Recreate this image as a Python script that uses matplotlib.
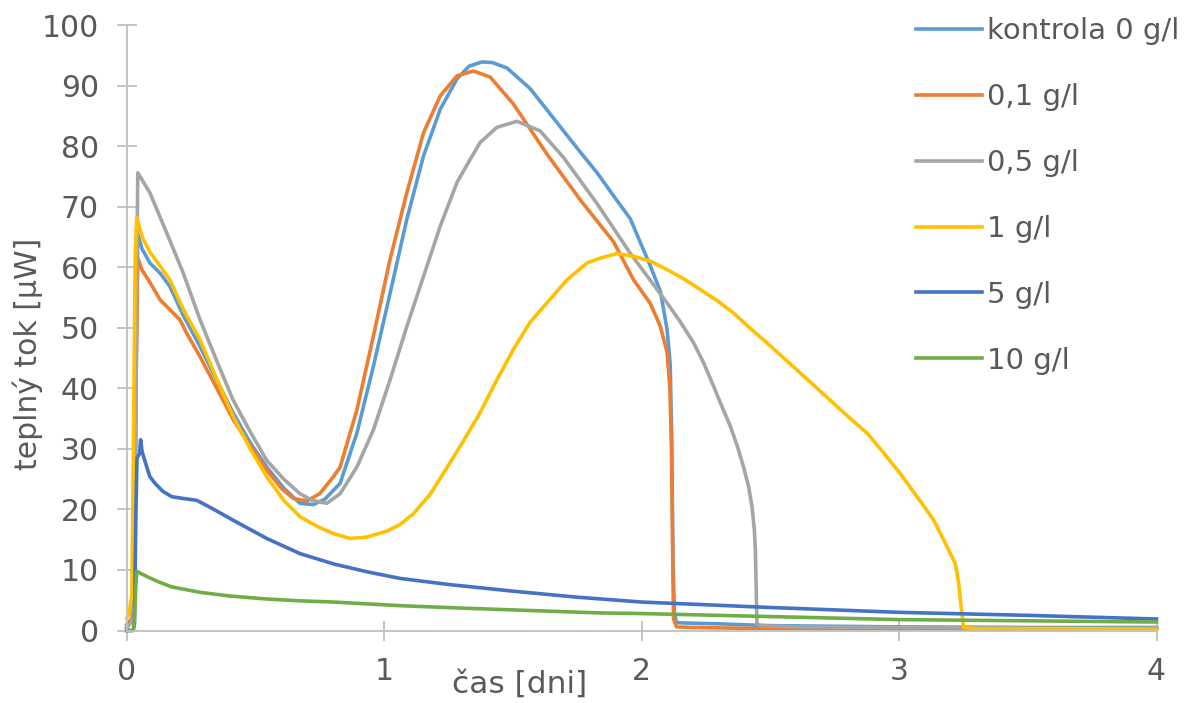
import matplotlib
matplotlib.use("Agg")
import matplotlib.pyplot as plt

# ---- data ----
labels = ["kontrola 0 g/l", "0,1 g/l", "0,5 g/l", "1 g/l", "5 g/l", "10 g/l"]
colors = ["#5B9BD5", "#ED7D31", "#A5A5A5", "#FFC000", "#4472C4", "#70AD47"]

t_k = [0, 0.02, 0.03, 0.036, 0.043, 0.06, 0.09, 0.13, 0.168, 0.22, 0.285, 0.35, 0.414,
       0.48, 0.544, 0.61, 0.673, 0.725, 0.77, 0.829, 0.894, 0.958, 1.023, 1.088, 1.153,
       1.218, 1.283, 1.33, 1.38, 1.42, 1.477, 1.567, 1.632, 1.697, 1.762, 1.827, 1.891,
       1.956, 2.034, 2.073, 2.099, 2.111, 2.117, 2.122, 2.127, 2.135, 2.2, 2.3, 2.5,
       3.0, 3.5, 4.0]
v_k = [0.5, 1.5, 5, 40, 65.4, 63, 60.7, 59, 56.8, 52, 46.9, 41.3, 35.9,
       31, 27, 23.5, 21, 20.8, 21.7, 24.3, 32.6, 43.6, 55.7, 67.9, 78.4,
       86.1, 91.1, 93.2, 93.9, 93.8, 92.9, 89.5, 86.0, 82.5, 79.0, 75.6, 71.8,
       68, 60.2, 56.0, 49.7, 44.0, 32, 12, 3, 1.3, 1.2, 1.1, 0.8,
       0.6, 0.5, 0.5]

t_o = [0, 0.02, 0.03, 0.036, 0.043, 0.06, 0.09, 0.13, 0.207, 0.233, 0.285, 0.35, 0.414,
       0.48, 0.544, 0.6, 0.648, 0.7, 0.75, 0.803, 0.829, 0.894, 0.958, 1.023, 1.088,
       1.153, 1.218, 1.283, 1.347, 1.412, 1.503, 1.632, 1.762, 1.891, 1.969, 2.034,
       2.073, 2.099, 2.11, 2.116, 2.12, 2.124, 2.135, 2.2, 2.5, 3.0, 3.5, 4.0]
v_o = [1, 2, 6, 40, 61.5, 59.5, 57.5, 54.6, 51.3, 49.1, 45.2, 40, 34.8,
       30.5, 26.5, 23.5, 21.8, 21.4, 22.6, 25.4, 27, 36.4, 48.6, 61.3, 72.3,
       82.2, 88.3, 91.6, 92.4, 91.4, 86.9, 78.7, 71.1, 64.2, 57.9, 54.0,
       50.2, 45.9, 40, 30, 15, 2, 0.6, 0.5, 0.3, 0.3, 0.2, 0.2]

t_g = [0, 0.02, 0.03, 0.036, 0.043, 0.09, 0.155, 0.22, 0.285, 0.35, 0.414, 0.48, 0.544,
       0.61, 0.673, 0.72, 0.777, 0.829, 0.894, 0.958, 1.023, 1.088, 1.153, 1.218, 1.283,
       1.33, 1.373, 1.438, 1.516, 1.606, 1.697, 1.827, 1.956, 2.099, 2.15, 2.202, 2.241,
       2.28, 2.312, 2.345, 2.373, 2.396, 2.416, 2.429, 2.438, 2.442, 2.448, 2.46, 2.6,
       3.0, 3.5, 4.0]
v_g = [0.5, 1.5, 5, 45, 75.6, 72.3, 65.7, 59, 51.3, 44.5, 38, 32.8, 28.1,
       25, 22.6, 21.5, 21, 22.6, 27, 33.1, 41.4, 50.2, 58.5, 66.8, 74,
       77.5, 80.6, 83.1, 84.1, 82.5, 78.1, 70.5, 62.3, 54.1, 51.0, 47.5, 44.2,
       40.3, 37.0, 33.7, 30.3, 27, 23.7, 20.4, 16.6, 13.2, 1.1, 0.8, 0.6,
       0.5, 0.4, 0.4]

t_y = [0, 0.01, 0.02, 0.026, 0.033, 0.039, 0.06, 0.09, 0.13, 0.168, 0.22, 0.285, 0.35,
       0.414, 0.48, 0.544, 0.61, 0.673, 0.74, 0.803, 0.868, 0.93, 1.01, 1.062, 1.114,
       1.179, 1.244, 1.308, 1.373, 1.438, 1.503, 1.567, 1.632, 1.71, 1.788, 1.84,
       1.904, 1.969, 2.034, 2.099, 2.163, 2.228, 2.293, 2.358, 2.422, 2.487, 2.552,
       2.617, 2.682, 2.746, 2.811, 2.876, 2.941, 3.005, 3.07, 3.135, 3.187,
       3.219, 3.232, 3.241, 3.251, 3.3, 3.6, 4.0]
v_y = [2, 3, 6, 30, 62, 68.2, 65, 62.5, 60.2, 57.9, 53, 48, 41.5,
       35.3, 30, 25.4, 21.5, 18.8, 17.2, 16, 15.2, 15.4, 16.4, 17.5, 19.3,
       22.5, 26.9, 31.3, 36, 41.4, 46.5, 50.9, 54.1, 57.9, 60.7, 61.5,
       62.25, 61.8, 61.0, 59.6, 58.1, 56.3, 54.5, 52.4, 49.9, 47.5, 45.0,
       42.5, 40.0, 37.5, 35.0, 32.6, 29.3, 25.9, 22.1, 18.2, 13.8,
       11.0, 7.7, 3.9, 0.5, 0.3, 0.3, 0.2]

t_5 = [0, 0.025, 0.03, 0.036, 0.04, 0.05, 0.054, 0.06, 0.078, 0.09, 0.11, 0.14, 0.175,
       0.22, 0.272, 0.33, 0.414, 0.544, 0.673, 0.803, 0.933, 1.062, 1.25, 1.5, 1.75,
       2.0, 2.5, 3.0, 3.5, 4.0]
v_5 = [0, 0, 1, 20, 28.5, 29.2, 31.5, 29.5, 27, 25.4, 24.3, 23, 22.1,
       21.8, 21.5, 20.2, 18.2, 15.2, 12.7, 11, 9.7, 8.6, 7.6, 6.5, 5.5,
       4.7, 3.8, 3.0, 2.5, 1.9]

t_10 = [0, 0.025, 0.03, 0.035, 0.039, 0.06, 0.084, 0.12, 0.175, 0.285, 0.4, 0.544,
        0.673, 0.803, 1.062, 1.3, 1.5, 1.84, 2.0, 2.5, 3.0, 3.5, 4.0]
v_10 = [0, 0, 1.5, 7, 9.8, 9.3, 8.8, 8.1, 7.2, 6.3, 5.7, 5.2,
        4.9, 4.7, 4.1, 3.7, 3.4, 2.9, 2.8, 2.3, 1.8, 1.6, 1.4]

series_t = [t_k, t_o, t_g, t_y, t_5, t_10]
series_v = [v_k, v_o, v_g, v_y, v_5, v_10]

x_ticks = [0, 1, 2, 3, 4]
y_ticks = [0, 10, 20, 30, 40, 50, 60, 70, 80, 90, 100]

# ---- figure ----
W, H = 1187, 703
fig = plt.figure(figsize=(W / 100, H / 100), dpi=100)
plt.rcParams['font.family'] = ['DejaVu Sans']
txt = "#595959"
axc = "#BFBFBF"
fs = 21.5

left, right = 126.7, 1156.5
top, bottom = 25, 630.5
ax = fig.add_axes([left / W, 1 - bottom / H, (right - left) / W, (bottom - top) / H])

for t, v, c, lab in zip(series_t, series_v, colors, labels):
    ax.plot(t, v, color=c, lw=2.6, label=lab, solid_joinstyle='round', clip_on=False)

ax.set_xlim(0, 4)
ax.set_ylim(0, 100)
ax.set_xticks(x_ticks)
ax.set_yticks(y_ticks)
for s in ["top", "right"]:
    ax.spines[s].set_visible(False)
for s in ["left", "bottom"]:
    ax.spines[s].set_color(axc)
    ax.spines[s].set_linewidth(1.3)
ax.tick_params(axis='both', direction='inout', length=14, width=1.3, color=axc,
               labelsize=fs, labelcolor=txt)
ax.tick_params(axis='x', pad=12)
ax.tick_params(axis='y', pad=13)

fig.text(28 / W, 1 - 354 / H, "teplný tok [μW]", rotation=90, ha='center', va='center',
         fontsize=fs, color=txt)
fig.text(520 / W, 1 - 684 / H, "čas [dni]", ha='center', va='center',
         fontsize=22.5, color=txt)

leg = ax.legend(loc='upper left', bbox_to_anchor=(916 / W, 1 - 17 / H),
                bbox_transform=fig.transFigure, frameon=False, fontsize=21,
                handlelength=2.25, handletextpad=0.2, labelspacing=1.3,
                borderpad=0, borderaxespad=0)
for tx in leg.get_texts():
    tx.set_color(txt)

fig.savefig("out.png", dpi=100)
